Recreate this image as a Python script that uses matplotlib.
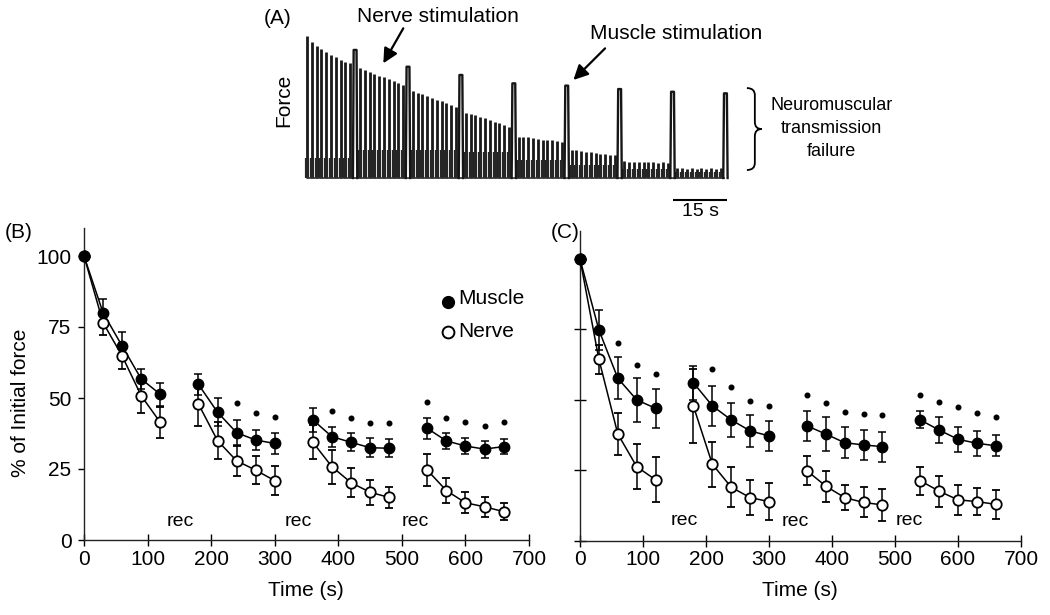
import numpy as np
import matplotlib
matplotlib.use('Agg')
import matplotlib.pyplot as plt
from matplotlib.path import Path
from matplotlib.patches import PathPatch

plt.rcParams['font.family'] = ['Liberation Sans', 'DejaVu Sans']

# ---------------- Panel A: force trace ----------------
event_interval_s = 1.336          # one stimulus every ~1.3 s
events_per_block = 11             # 10 nerve twitches then 1 muscle stimulus
nerve_peaks = [
    [100, 95.8, 93.0, 90.7, 88.4, 86.5, 84.8, 82.9, 81.3, 80.5],
    [77.0, 76.0, 74.5, 73.0, 72.0, 71.0, 69.5, 68.0, 67.0, 65.5],
    [61.0, 60.0, 59.0, 57.5, 56.0, 55.0, 54.0, 52.5, 51.5, 50.0],
    [46.0, 45.0, 44.0, 43.0, 42.0, 40.5, 39.5, 38.5, 37.0, 36.0],
    [29.0, 29.0, 28.5, 28.0, 27.5, 27.0, 27.0, 26.5, 26.0, 25.5],
    [20.0, 19.5, 19.0, 18.5, 18.0, 17.5, 17.0, 17.0, 16.5, 16.0],
    [12.0, 11.5, 11.5, 11.0, 11.0, 11.0, 11.0, 10.5, 11.0, 10.5],
    [7.0, 7.0, 6.5, 7.0, 6.5, 7.0, 6.5, 7.0, 6.5, 7.0],
]
muscle_peaks = [90.0, 78.2, 72.4, 66.5, 64.9, 62.5, 60.6, 59.5]
fused_levels = [14, 20, 20, 18, 13, 9, 6, 4]

# ---------------- Panels B and C ----------------
time_s = [0, 30, 60, 90, 120, 180, 210, 240, 270, 300,
          360, 390, 420, 450, 480, 540, 570, 600, 630, 660]
blocks = [range(0, 5), range(5, 10), range(10, 15), range(15, 20)]

muscle_B = [100, 80.0, 68.3, 56.7, 51.3, 54.8, 45.0, 37.8, 35.2, 34.0,
            42.3, 36.4, 34.4, 32.5, 32.3, 39.3, 34.9, 33.1, 32.0, 32.9]
muscle_B_se = [0, 4.7, 5.0, 3.5, 4.0, 3.7, 4.9, 4.5, 3.5, 3.6,
               4.3, 3.5, 3.2, 3.3, 3.2, 3.8, 2.7, 2.7, 3.0, 2.7]
nerve_B = [100, 76.5, 64.8, 50.8, 41.4, 47.9, 35.0, 27.9, 24.6, 20.9,
           34.4, 25.8, 20.2, 16.8, 15.0, 24.6, 17.4, 13.1, 11.7, 10.0]
nerve_B_se = [0, 4.3, 4.6, 6.2, 5.6, 7.6, 6.5, 5.3, 5.0, 5.0,
              6.0, 6.0, 5.0, 4.5, 3.8, 5.7, 4.3, 3.7, 3.5, 3.0]
star_B_t = [240, 270, 300, 390, 420, 450, 480, 540, 570, 600, 630, 660]
star_B_y = [48.1, 44.8, 43.4, 45.4, 42.8, 41.3, 41.1, 48.7, 43.1, 41.7, 40.2, 41.4]
rec_B_t = [151, 337, 521]
rec_B_y = [6.5, 6.5, 6.5]

muscle_C = [100, 74.8, 57.7, 50.0, 47.0, 56.1, 47.9, 42.9, 39.0, 37.2,
            40.8, 37.9, 34.8, 34.0, 33.4, 42.9, 39.3, 36.0, 34.6, 33.7]
muscle_C_se = [0, 7.0, 7.5, 7.7, 6.9, 6.0, 7.0, 6.0, 5.7, 5.4,
               5.4, 6.0, 5.5, 5.3, 5.3, 3.0, 4.5, 4.5, 4.5, 3.8]
nerve_C = [100, 64.4, 37.9, 26.3, 21.6, 47.8, 27.2, 19.0, 15.3, 13.9,
           24.9, 19.4, 15.3, 13.6, 12.7, 21.3, 17.6, 14.5, 13.9, 12.9]
nerve_C_se = [0, 5.2, 7.6, 8.0, 8.0, 13.0, 8.0, 7.0, 6.2, 6.5,
              5.2, 5.5, 4.5, 5.3, 5.6, 5.0, 5.5, 5.3, 4.9, 5.1]
star_C_t = [60, 90, 120, 210, 240, 270, 300, 360, 390, 420, 450, 480,
            540, 570, 600, 630, 660]
star_C_y = [70.3, 62.4, 59.2, 60.9, 54.5, 49.7, 47.8, 51.7, 48.8, 45.6, 45.0,
            44.6, 51.7, 49.4, 47.4, 45.2, 44.0]
rec_C_t = [166, 341, 522]
rec_C_y = [7.3, 6.8, 7.3]

x_ticks = [0, 100, 200, 300, 400, 500, 600, 700]
y_ticks = [0, 25, 50, 75, 100]

W, H = 1050, 615
fig = plt.figure(figsize=(W / 100, H / 100), dpi=100)


def fr(x0, y0, x1, y1):
    """figure rect from pixel box (left, top, right, bottom)"""
    return [x0 / W, 1 - y1 / H, (x1 - x0) / W, (y1 - y0) / H]


# ---------- Panel A ----------
axA = fig.add_axes(fr(260, 0, 880, 220))
px_per_s = 3.6
px_per_unit = 1.423
axA.set_xlim((260 - 307) / px_per_s, (880 - 307) / px_per_s)
axA.set_ylim((178 - 220) / px_per_unit, (178 - 0) / px_per_unit)
axA.axis('off')

tw_t, tw_h, tw_b, sp_t = [], [], [], []
for k, seg in enumerate(nerve_peaks):
    for j, h in enumerate(seg):
        tw_t.append((k * events_per_block + j) * event_interval_s)
        tw_h.append(h)
        tw_b.append(fused_levels[k])
    sp_t.append((k * events_per_block + 10) * event_interval_s)

axA.vlines(tw_t, 0, tw_h, colors='#1a1a1a', lw=2.0)
axA.vlines(tw_t, 0, tw_b, colors='#262626', lw=3.0)
axA.hlines(0, tw_t[0], sp_t[-1], colors='#333333', lw=1.2)
for t, h in zip(sp_t, muscle_peaks):
    axA.plot([t - 0.6, t - 0.4, t + 0.4, t + 0.6], [0, h, h, 0],
             color='#161616', lw=1.7)

axA.text(-8.1, 112.4, '(A)', ha='center', va='center', fontsize=15)
axA.text(-6.4, 54.8, 'Force', ha='center', va='center', fontsize=15, rotation=90)
axA.text(36.5, 113.5, 'Nerve stimulation', ha='center', va='center', fontsize=15)
axA.text(102.6, 101.5, 'Muscle stimulation', ha='center', va='center', fontsize=15)
axA.annotate('', xy=(21.2, 80.6), xytext=(26.75, 105.2),
             arrowprops=dict(arrowstyle='-|>', color='black', lw=1.6,
                             mutation_scale=22, shrinkA=0, shrinkB=0))
axA.annotate('', xy=(74.0, 68.9), xytext=(82.8, 91.1),
             arrowprops=dict(arrowstyle='-|>', color='black', lw=1.6,
                             mutation_scale=22, shrinkA=0, shrinkB=0))
# scale bar
axA.hlines(-15.5, 101.7, 116.7, colors='black', lw=1.5)
axA.text(109.2, -23.7, '15 s', ha='center', va='center', fontsize=14)

# brace
xl, xm, xt = 122.2, 124.4, 126.3
yt, yb = 63.2, 5.6
ym = (yt + yb) / 2
d = 5
verts = [(xl, yt), (xm, yt), (xm, yt - d),
         (xm, ym + d), (xm, ym), (xt, ym),
         (xm, ym), (xm, ym - d),
         (xm, yb + d), (xm, yb), (xl, yb)]
codes = [Path.MOVETO, Path.CURVE3, Path.CURVE3,
         Path.LINETO, Path.CURVE3, Path.CURVE3,
         Path.CURVE3, Path.CURVE3,
         Path.LINETO, Path.CURVE3, Path.CURVE3]
axA.add_patch(PathPatch(Path(verts, codes), fill=False, lw=1.3, color='black'))
axA.text(145.6, 51.3, 'Neuromuscular', ha='center', va='center', fontsize=13)
axA.text(145.6, 34.9, 'transmission', ha='center', va='center', fontsize=13)
axA.text(145.6, 18.5, 'failure', ha='center', va='center', fontsize=13)


# ---------- Panels B and C ----------
def draw_panel(ax, m, mse, n, nse, st, sy, rt, ry):
    t = np.array(time_s, dtype=float)
    m, mse, n, nse = map(np.array, (m, mse, n, nse))
    for b in blocks:
        idx = list(b)
        ax.errorbar(t[idx], m[idx], yerr=mse[idx], fmt='-o', color='black',
                    mfc='black', mec='black', ms=7.5, lw=1.1, elinewidth=1.1,
                    capsize=2.6, capthick=1.1, zorder=3)
    for b in blocks:
        idx = list(b)
        ax.errorbar(t[idx], n[idx], yerr=nse[idx], fmt='-o', color='black',
                    mfc='white', mec='black', mew=1.3, ms=7.5, lw=1.1,
                    elinewidth=1.1, capsize=2.6, capthick=1.1, zorder=4)
    # shared starting point shown filled
    ax.plot(t[:1], m[:1], 'o', color='black', ms=7.8, zorder=6, clip_on=False)
    ax.plot(st, sy, 'o', color='black', ms=3.3, zorder=5)
    for x, y in zip(rt, ry):
        ax.text(x, y, 'rec', ha='center', va='center', fontsize=14)
    ax.set_xlim(0, 700)
    ax.set_ylim(0, 110)
    for s in ('top', 'right'):
        ax.spines[s].set_visible(False)
    for s in ('left', 'bottom'):
        ax.spines[s].set_linewidth(1.0)
        ax.spines[s].set_color('#222222')
    ax.set_xticks(x_ticks)
    ax.set_yticks(y_ticks)
    ax.tick_params(axis='x', direction='inout', length=8, width=1.0,
                   labelsize=15, pad=3)
    ax.patch.set_alpha(0)


axB = fig.add_axes(fr(84, 227.6, 529, 540))
draw_panel(axB, muscle_B, muscle_B_se, nerve_B, nerve_B_se,
           star_B_t, star_B_y, rec_B_t, rec_B_y)
axB.tick_params(axis='y', direction='out', length=4, width=1.0,
                labelsize=15, pad=5)
# legend
axB.plot([572], [83.8], 'o', color='black', ms=8.5, clip_on=False)
axB.plot([572], [73.2], 'o', mfc='white', mec='black', mew=1.4, ms=8.5,
         clip_on=False)
axB.text(589, 85.2, 'Muscle', ha='left', va='center', fontsize=15)
axB.text(589, 73.4, 'Nerve', ha='left', va='center', fontsize=15)

axC = fig.add_axes(fr(580, 230.9, 1021, 540.7))
draw_panel(axC, muscle_C, muscle_C_se, nerve_C, nerve_C_se,
           star_C_t, star_C_y, rec_C_t, rec_C_y)
axC.tick_params(axis='y', direction='inout', length=8, width=1.0,
                labelleft=False)

fig.text(19 / W, 1 - 232 / H, '(B)', ha='center', va='center', fontsize=15)
fig.text(565 / W, 1 - 232 / H, '(C)', ha='center', va='center', fontsize=15)
fig.text(306 / W, 1 - 591 / H, 'Time (s)', ha='center', va='center', fontsize=15)
fig.text(800 / W, 1 - 591 / H, 'Time (s)', ha='center', va='center', fontsize=15)
fig.text(20 / W, 1 - 403 / H, '% of Initial force', ha='center', va='center',
         fontsize=15, rotation=90)

fig.savefig('out.png', dpi=100)
